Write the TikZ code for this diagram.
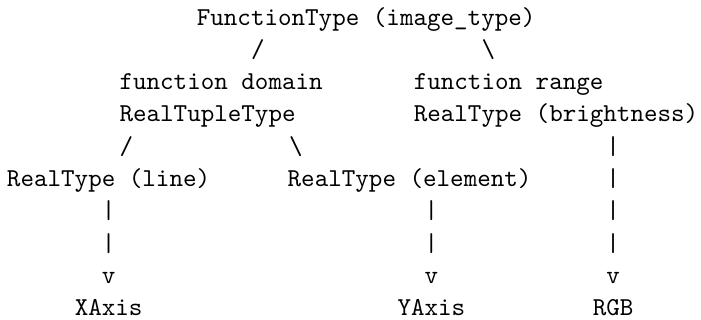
\documentclass[tikz,border=0pt]{standalone}
\usepackage{fontspec}
\setmonofont{lmmono10-regular}[Extension=.otf]
\usetikzlibrary{positioning}
\tikzset{>=latex}

\begin{document}
\begin{tikzpicture}[x=6.78pt,y=-16.15pt,
   every node/.style={inner sep=0pt,outer sep=0pt,anchor=base west,
      font=\fontsize{12.9}{15}\selectfont\ttfamily},
]
\useasboundingbox (-0.516,0.226) rectangle (51.18,10.133);
% top
\node (image) at (14,1) {FunctionType (image\_type)};
\node (sl1)   at (18,2) {/};
\node (bs1)   at (35,2) {\textbackslash};
% domain and range
\node (dom)   at (8.3,3)  {function domain};
\node (rng)   at (30,3) {function range};
\node (tuple) at (8.3,4)  {RealTupleType};
\node (bright) at (30,4) {RealType (brightness)};
\node (sl2)   at (8.3,5)  {/};
\node (bs2)   at (20.8,5) {\textbackslash};
\node (bar1)  at (44.2,5) {|};
% components
\node (line)  at (0,6)  {RealType (line)};
\node (elem)  at (20.7,6) {RealType (element)};
\node (bar2)  at (44.2,6) {|};
\node (bar3)  at (7,7)  {|};
\node (bar4)  at (30.8,7) {|};
\node (bar5)  at (44.2,7) {|};
\node (bar6)  at (7,8)  {|};
\node (bar7)  at (30.8,8) {|};
\node (bar8)  at (44.2,8) {|};
\node (arr1)  at (7,9)  {v};
\node (arr2)  at (30.8,9) {v};
\node (arr3)  at (44.2,9) {v};
% display types
\node (xaxis) at (5,10)  {XAxis};
\node (yaxis) at (28.8,10) {YAxis};
\node (rgb)   at (43.2,10) {RGB};
\end{tikzpicture}
\end{document}
